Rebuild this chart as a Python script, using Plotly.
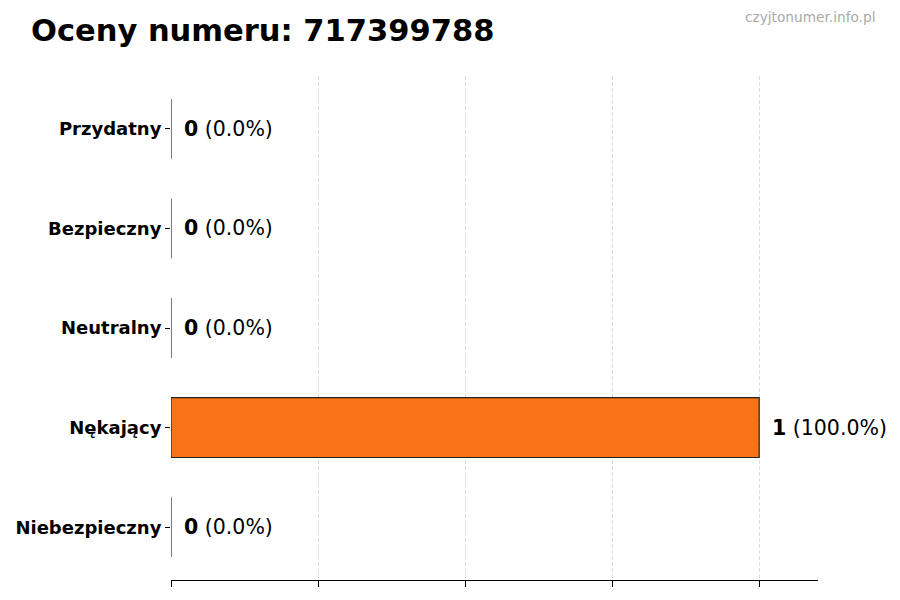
import plotly.graph_objects as go

categories = ["Niebezpieczny", "Nękający", "Neutralny", "Bezpieczny", "Przydatny"]
counts = [0, 1, 0, 0, 0]
percents = [0.0, 100.0, 0.0, 0.0, 0.0]
title_text = "Oceny numeru: 717399788"
watermark = "czyjtonumer.info.pl"

FONT = "DejaVu Sans"

# page body adds 8px offset, so margins are shifted to compensate
L, R, T, B = 163, 90, 68, 28
W, H = 900, 600
PW, PH = W - L - R, H - T - B


def px_x(x):
    # screen x -> paper fraction
    return (x - 8 - L) / PW


def px_y(y):
    return 1 + (T - (y - 8)) / PH


fig = go.Figure()
fig.add_trace(go.Bar(
    y=categories,
    x=counts,
    orientation="h",
    width=0.6,
    marker=dict(color="#F97316", line=dict(color="#222222", width=1.2)),
    hoverinfo="skip",
))

annotations = []
for cat, c, p in zip(categories, counts, percents):
    annotations.append(dict(
        x=c, y=cat, xref="x", yref="y",
        text="<b>%d</b> (%.1f%%)" % (c, p),
        showarrow=False, xanchor="left", yanchor="middle",
        xshift=11,
        font=dict(family=FONT, size=20.5, color="black"),
    ))

annotations.append(dict(
    x=px_x(29), y=px_y(30), xref="paper", yref="paper",
    text="<b>" + title_text + "</b>", showarrow=False,
    xanchor="left", yanchor="middle",
    font=dict(family=FONT, size=30.5, color="black"),
))
annotations.append(dict(
    x=px_x(877), y=px_y(17), xref="paper", yref="paper",
    text=watermark, showarrow=False,
    xanchor="right", yanchor="middle",
    font=dict(family=FONT, size=13.7, color="#aaaaaa"),
))

fig.update_layout(
    width=W, height=H,
    margin=dict(l=L, r=R, t=T, b=B, autoexpand=False),
    plot_bgcolor="white", paper_bgcolor="white",
    showlegend=False,
    annotations=annotations,
    font=dict(family=FONT),
)
fig.update_xaxes(
    range=[0, 1.1],
    tickvals=[0, 0.25, 0.5, 0.75, 1.0],
    showticklabels=False,
    ticks="outside", ticklen=6, tickcolor="black",
    showgrid=True, gridcolor="#dddddd", griddash="4px,2px", gridwidth=1,
    showline=True, linecolor="black", linewidth=1,
    zeroline=False, automargin=False,
)
fig.update_yaxes(
    range=[-0.53, 4.53],
    tickvals=categories,
    ticktext=["<b>" + c + "</b>" for c in categories],
    ticks="outside", ticklen=5, tickcolor="black",
    tickfont=dict(family=FONT, size=18, color="black"),
    showgrid=False, showline=False, zeroline=False,
    ticklabelstandoff=0, automargin=False,
)

fig.write_html("out.html")
